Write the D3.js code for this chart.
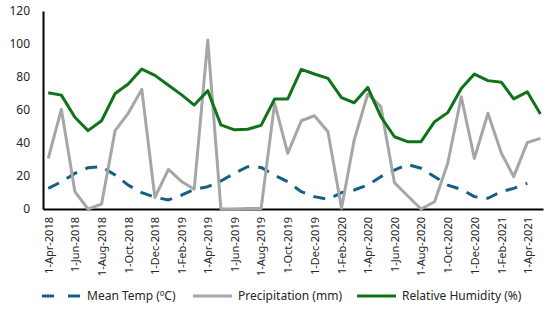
<!DOCTYPE html>
<html>
<head>
<meta charset="utf-8">
<script src="https://cdn.jsdelivr.net/npm/d3@7"></script>
<style>
  body { margin: 0; background: #fff; }
  text { font-family: "Noto Sans", "DejaVu Sans", sans-serif; fill: #262626; }
</style>
</head>
<body>
<div id="chart"></div>
<script>
// months, first of each month, Apr 2018 .. May 2021
var months = [
  "2018-04-01","2018-05-01","2018-06-01","2018-07-01","2018-08-01","2018-09-01",
  "2018-10-01","2018-11-01","2018-12-01","2019-01-01","2019-02-01","2019-03-01",
  "2019-04-01","2019-05-01","2019-06-01","2019-07-01","2019-08-01","2019-09-01",
  "2019-10-01","2019-11-01","2019-12-01","2020-01-01","2020-02-01","2020-03-01",
  "2020-04-01","2020-05-01","2020-06-01","2020-07-01","2020-08-01","2020-09-01",
  "2020-10-01","2020-11-01","2020-12-01","2021-01-01","2021-02-01","2021-03-01",
  "2021-04-01","2021-05-01"
];

// mean temp stops at Apr 2021
var meanTemp = [12.5, 16.5, 21.6, 25, 25.6, 20.6, 14.5, 9.9, 7.1, 5.5, 8.5, 11.9,
  13.5, 17, 21.6, 25.6, 25.2, 20.5, 16.5, 10.5, 7.5, 5.9, 9.9, 11.5,
  14.5, 19.6, 23.6, 27, 24.7, 19.6, 14.5, 11.9, 7.5, 6.5, 10.5, 12.5, 15.6];

var precipitation = [30.7, 60.4, 10.5, 0, 3, 47.5, 58, 72.5, 7, 24, 16.5, 12,
  102.4, 0, 0, 0.3, 0.3, 64, 33.7, 53.5, 56.5, 46.8, 0.5, 41.8,
  69.7, 62, 16, 8, 0, 4.4, 27.7, 68, 30.7, 58, 33.7, 19.6, 40.2, 42.8];

var humidity = [70.5, 69, 55.6, 47.5, 53.5, 70, 75.8, 84.8, 81, 75, 69, 63,
  71.7, 51, 48, 48.3, 50.7, 66.7, 66.7, 84.6, 81.8, 79.2, 67.5, 64.4,
  73.7, 56, 43.8, 40.8, 40.8, 52.9, 58.4, 73, 81.8, 77.8, 76.8, 66.7, 71, 57.6];

var tickMonths = [
  "2018-04-01","2018-06-01","2018-08-01","2018-10-01","2018-12-01",
  "2019-02-01","2019-04-01","2019-06-01","2019-08-01","2019-10-01","2019-12-01",
  "2020-02-01","2020-04-01","2020-06-01","2020-08-01","2020-10-01","2020-12-01",
  "2021-02-01","2021-04-01"
];
var yTicks = [0, 20, 40, 60, 80, 100, 120];

var seriesNames = ["Mean Temp (ºC)", "Precipitation (mm)", "Relative Humidity (%)"];

var W = 550, H = 320;
var parse = d3.timeParse("%Y-%m-%d");
var dates = months.map(parse);

var svg = d3.select("#chart").append("svg")
  .attr("width", W).attr("height", H);

var x = d3.scaleTime()
  .domain([new Date(2018, 2, 20), new Date(2021, 4, 7)])
  .range([43, 543]);
var y = d3.scaleLinear().domain([0, 120]).range([209, 11]);

// y axis
var yAxis = svg.append("g").attr("transform", "translate(43,0)")
  .call(d3.axisLeft(y).tickValues(yTicks).tickSize(0).tickPadding(13));
yAxis.select(".domain").attr("stroke", "#000").attr("stroke-width", 2);
yAxis.selectAll("text").style("font-size", "12px").attr("fill", "#262626");

// x axis
var xAxis = svg.append("g").attr("transform", "translate(0,209)")
  .call(d3.axisBottom(x).tickValues(tickMonths.map(parse))
    .tickFormat(d3.timeFormat("%-d-%b-%Y")).tickSize(0));
xAxis.select(".domain").attr("stroke", "#000").attr("stroke-width", 2);
xAxis.selectAll("text")
  .style("font-size", "11px")
  .attr("fill", "#262626")
  .attr("transform", "rotate(-90)")
  .attr("text-anchor", "end")
  .attr("x", -8).attr("y", 0).attr("dy", "0.35em");

var line = d3.line()
  .x(function (d, i) { return x(dates[i]); })
  .y(function (d) { return y(d); });

var styles = [
  {data: meanTemp, color: "#156082", dash: "12,9"},
  {data: precipitation, color: "#A6A6A6", dash: null},
  {data: humidity, color: "#10731A", dash: null}
];

// draw order: temp under, precip, humidity on top
styles.forEach(function (s) {
  svg.append("path")
    .datum(s.data)
    .attr("fill", "none")
    .attr("stroke", s.color)
    .attr("stroke-width", 3)
    .attr("stroke-linejoin", "round")
    .attr("stroke-dasharray", s.dash)
    .attr("d", line);
});

// legend
var legendX = [42, 193, 357];
var legend = svg.append("g").attr("transform", "translate(0,296)");
styles.forEach(function (s, i) {
  legend.append("line")
    .attr("x1", legendX[i]).attr("x2", legendX[i] + 39)
    .attr("y1", 0).attr("y2", 0)
    .attr("stroke", s.color).attr("stroke-width", 3)
    .attr("stroke-dasharray", s.dash ? "12,14" : null);
  legend.append("text")
    .attr("x", legendX[i] + 45).attr("y", 0).attr("dy", "0.35em")
    .style("font-size", "12px")
    .text(seriesNames[i]);
});
</script>
</body>
</html>
